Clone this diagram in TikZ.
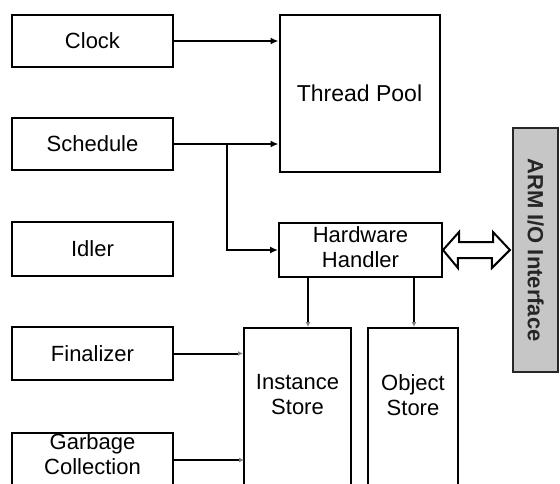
\documentclass[tikz,border=0pt]{standalone}
\usepackage{fontspec}
\setmainfont{Liberation Sans}
\usetikzlibrary{arrows.meta,calc}
\begin{document}
\begin{tikzpicture}[x=1pt,y=-1pt,
  box/.style={draw=black,line width=2pt,fill=white,inner sep=0pt,font=\fontsize{22}{25}\selectfont,align=center},
  lbl/.style={align=center,font=\fontsize{22}{25}\selectfont},
  conn/.style={line width=2pt,-{Latex[length=8pt,width=7pt]}},
  plain/.style={line width=2pt,-{Latex[length=5pt,width=5pt,gray]}}]
\useasboundingbox (0,0) rectangle (560,483);
\node[box,minimum width=161pt,minimum height=52pt] (clock) at (92.5,41) {Clock};
\node[box,minimum width=161pt,minimum height=52pt] (sched) at (92.5,144) {Schedule};
\node[box,minimum width=161pt,minimum height=54pt] (idler) at (92.5,249) {Idler};
\node[box,minimum width=161pt,minimum height=53pt] (final) at (92.5,353.5) {Finalizer};
\node[box,minimum width=161pt,minimum height=58pt,anchor=north] (gc) at (92.5,432) {};
\node[lbl] (gct) at (92.5,454) {Garbage\\Collection};
\node[box,minimum width=160pt,minimum height=157pt,font=\fontsize{23}{26}\selectfont] (tp) at (359.5,93.5) {Thread Pool};
\node[box,minimum width=163pt,minimum height=54pt] (hh) at (360.5,250) {};
\node[lbl] (hht) at (360.5,247) {Hardware\\Handler};
\node[box,minimum width=107pt,minimum height=165pt,anchor=north] (is) at (297.5,327) {};
\node[box,minimum width=90pt,minimum height=165pt,anchor=north] (os) at (413,327) {};
\node[lbl] (ist) at (297.5,395) {Instance\\Store};
\node[lbl] (ost) at (413,395) {Object\\Store};
\node[draw=black!85,line width=2.2pt,fill=gray!45,minimum width=45pt,minimum height=244pt,inner sep=0pt] (arm) at (535.5,250) {};
\node[rotate=-90,font=\bfseries\fontsize{22}{24}\selectfont,text=black!85] (armt) at (arm.center) {ARM I/O Interface};
% connectors
\draw[conn] (clock.east) -- (clock.east -| tp.west);
\draw[conn] (sched.east) -- (sched.east -| tp.west);
\coordinate (br) at (227,144);
\draw[conn] (br) |- (hh.west);
\draw[plain] (final.east) -- (final.east -| is.west);
\coordinate (g1) at (173,460);
\coordinate (g2) at (244,460);
\draw[plain] (g1) -- (g2);
\coordinate (h1) at (308,277);
\coordinate (h2) at (414,277);
\draw[plain] (h1) -- (h1 |- is.north);
\draw[plain] (h2) -- (h2 |- os.north);
% double arrow
\draw[line width=2pt,fill=white,line join=miter]
  ($(hh.east)$) -- ++(16,-18) -- ++(0,10) -- ++(34,0) -- ++(0,-10) -- ($(arm.west)+(-2,0)$)
  -- ++(-18,18) -- ++(0,-10) -- ++(-34,0) -- ++(0,10) -- cycle;
\end{tikzpicture}
\end{document}
